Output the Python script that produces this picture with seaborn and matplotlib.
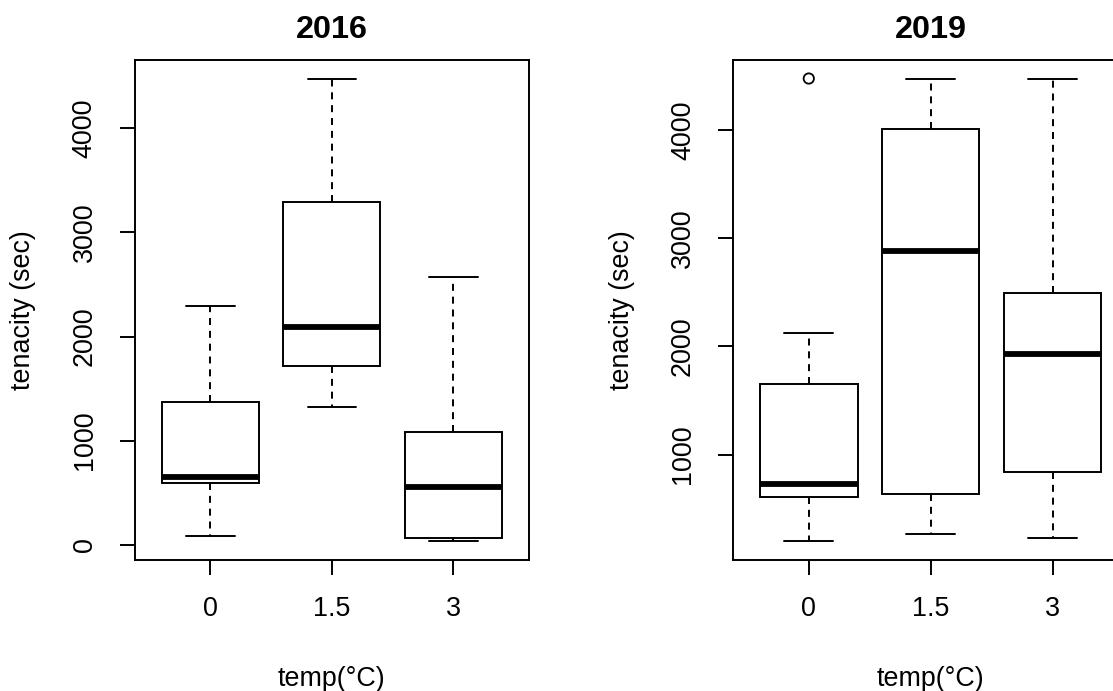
import numpy as np
import pandas as pd
import matplotlib
matplotlib.use("Agg")
import matplotlib.pyplot as plt
import seaborn as sns

# Temperature treatments on the x axis
temps = ["0", "1.5", "3"]

# Five-number summaries of tenacity (sec) per temperature:
# minimum, lower hinge, median, upper hinge, maximum
summary_2016_t0 = [80, 590, 650, 1375, 2295]
summary_2016_t15 = [1320, 1720, 2095, 3295, 4480]
summary_2016_t3 = [30, 60, 555, 1080, 2570]

summary_2019_t0 = [195, 605, 730, 1650, 2120]
summary_2019_t15 = [260, 635, 2880, 4015, 4480]
summary_2019_t3 = [225, 840, 1930, 2495, 4480]

# Values lying beyond the whiskers
outliers_2019_temp = ["0"]
outliers_2019_value = [4480]

yticks_2016 = [0, 1000, 2000, 3000, 4000]
yticks_2019 = [1000, 2000, 3000, 4000]


def long_frame(summaries):
    rows = []
    for t, vals in zip(temps, summaries):
        for v in vals:
            rows.append({"temp": t, "tenacity": v})
    return pd.DataFrame(rows)


df_2016 = long_frame([summary_2016_t0, summary_2016_t15, summary_2016_t3])
df_2019 = long_frame([summary_2019_t0, summary_2019_t15, summary_2019_t3])
df_out_2019 = pd.DataFrame({"temp": outliers_2019_temp, "tenacity": outliers_2019_value})

sns.set_theme(style="white")
plt.rcParams["font.family"] = ["Liberation Sans", "DejaVu Sans"]
plt.rcParams["text.color"] = "black"
plt.rcParams["axes.labelcolor"] = "black"

W, H = 1113, 691
fig = plt.figure(figsize=(W / 100, H / 100), dpi=100)
fig.patch.set_facecolor("white")

LW = 1.4
TICK_FS = 19.4
TITLE_FS = 23.3


def draw_panel(ax, df, title, yticks, out_df=None, ylabel_x=-0.252):
    sns.boxplot(
        data=df, x="temp", y="tenacity", order=temps, ax=ax,
        width=0.8, whis=(0, 100), showfliers=False,
        color="white", linecolor="black", linewidth=LW,
        boxprops=dict(facecolor="white", edgecolor="black", linewidth=LW),
        whiskerprops=dict(color="black", linewidth=LW, linestyle=(0, (3.6, 3))),
        capprops=dict(color="black", linewidth=LW),
        medianprops=dict(color="black", linewidth=4.2, solid_capstyle="butt"),
    )
    if out_df is not None:
        sns.scatterplot(
            data=out_df, x="temp", y="tenacity", ax=ax,
            marker="o", s=55, facecolor="none", edgecolor="black",
            linewidth=1.3, zorder=5,
        )
    allv = np.concatenate([df["tenacity"].to_numpy(),
                           out_df["tenacity"].to_numpy() if out_df is not None else []])
    lo, hi = allv.min(), allv.max()
    rng = hi - lo
    ax.set_ylim(lo - 0.04 * rng, hi + 0.04 * rng)
    ax.set_xlim(-0.62, 2.62)
    ax.set_yticks(yticks)
    ax.set_yticklabels([str(v) for v in yticks])
    ax.set_xticks(range(len(temps)))
    ax.set_xticklabels(temps)
    for s in ax.spines.values():
        s.set_visible(True)
        s.set_color("black")
        s.set_linewidth(LW)
    ax.tick_params(axis="both", which="major", direction="out", length=10.8,
                   width=LW, color="black", labelsize=TICK_FS, labelcolor="black",
                   left=True, bottom=True)
    ax.tick_params(axis="y", pad=16)
    ax.tick_params(axis="x", pad=15)
    plt.setp(ax.get_yticklabels(), rotation=90, va="center")
    ax.set_title(title, fontsize=TITLE_FS, fontweight="bold", pad=15.6, color="black")
    ax.set_xlabel("temp(°C)", fontsize=TICK_FS, color="black")
    ax.set_ylabel("tenacity (sec)", fontsize=TICK_FS, color="black")
    ax.xaxis.set_label_coords(0.5, -0.212)
    ax.yaxis.set_label_coords(ylabel_x, 0.5)
    ax.set_facecolor("white")


ax1 = fig.add_axes([135 / W, 1 - 560 / H, 393.6 / W, 500 / H])
draw_panel(ax1, df_2016, "2016", yticks_2016, ylabel_x=-0.252)

ax2 = fig.add_axes([733.2 / W, 1 - 560 / H, 395 / W, 500 / H])
draw_panel(ax2, df_2019, "2019", yticks_2019, out_df=df_out_2019, ylabel_x=-0.249)

fig.savefig("out.png", dpi=100, facecolor="white")
